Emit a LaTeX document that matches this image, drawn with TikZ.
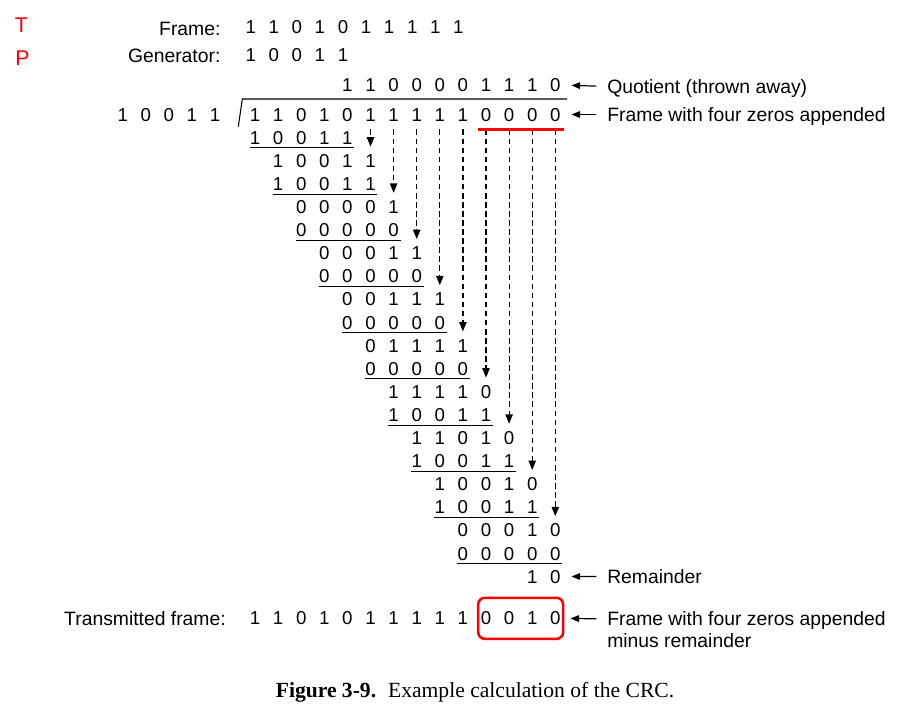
\documentclass[tikz,border=0pt]{standalone}
\usepackage{fontspec}
\setmainfont{Liberation Serif}
\setsansfont{Liberation Sans}
\usetikzlibrary{arrows.meta,fit}
\tikzset{
  bit/.style={inner sep=0pt,text height=10pt,text depth=0pt,font=\sffamily\fontsize{14}{17}\selectfont},
  lbl/.style={inner sep=0pt,text height=10.4pt,text depth=0pt,font=\sffamily\fontsize{14.5}{17}\selectfont},
  tag/.style={lbl,anchor=west},
  redmark/.style={inner sep=0pt,text=red,font=\sffamily\fontsize{16}{19}\selectfont},
  pointer/.style={-{Triangle[length=6.5pt,width=5pt]},line width=0.9pt,shorten <=8pt,shorten >=8pt},
  brought/.style={-{Triangle[length=7pt,width=5.5pt]},dash pattern=on 4.2pt off 2.6pt,line width=0.9pt,shorten <=6pt,shorten >=5.4pt},
  uline/.style={line width=0.8pt}
}
\begin{document}
\begin{tikzpicture}[x=0.75pt,y=-0.75pt]
\useasboundingbox (0,0) rectangle (919,722);
\node[redmark] (markT) at (21.5,25) {T};
\node[redmark] (markP) at (22.5,57.8) {P};
\node[lbl,anchor=east] (lframe) at (220.7,28.5) {Frame:};
\node[lbl,anchor=east] (lgen) at (220.7,56) {Generator:};
\foreach \b [count=\i from 0] in {1,1,0,1,0,1,1,1,1,1}
  \node[bit] (f\i) at ({250.7+23.07*\i},27) {\b};
\foreach \b [count=\i from 0] in {1,0,0,1,1}
  \node[bit] (g\i) at ({250.7+23.07*\i},54.5) {\b};
% division
\foreach \b [count=\i from 0] in {1,0,0,1,1}
  \node[bit] (v\i) at ({122.7+23.07*\i},114.5) {\b};
\foreach \b [count=\i from 4] in {1,1,0,0,0,0,1,1,1,0}
  \node[bit] (q\i) at ({255+23.1*\i},85) {\b};
\foreach \b [count=\i from 0] in {1,1,0,1,0,1,1,1,1,1,0,0,0,0}
  \node[bit] (d\i) at ({255+23.1*\i},114.5) {\b};
\draw[line width=0.8pt] ([shift={(-16.7,12.2)}]d0.center) -- ([shift={(-12.7,-15.5)}]d0.center) -- ([shift={(11.7,-15.5)}]d13.center);
\foreach \k/\s/\bits in {1/0/{1,0,0,1,1},2/1/{1,0,0,1,1},3/1/{1,0,0,1,1},4/2/{0,0,0,0,1},5/2/{0,0,0,0,0},
    6/3/{0,0,0,1,1},7/3/{0,0,0,0,0},8/4/{0,0,1,1,1},9/4/{0,0,0,0,0},10/5/{0,1,1,1,1},11/5/{0,0,0,0,0},
    12/6/{1,1,1,1,0},13/6/{1,0,0,1,1},14/7/{1,1,0,1,0},15/7/{1,0,0,1,1},16/8/{1,0,0,1,0},17/8/{1,0,0,1,1},
    18/9/{0,0,0,1,0},19/9/{0,0,0,0,0},20/12/{1,0}}
  \foreach \b [count=\i from \s] in \bits
    \node[bit] (r\k-\i) at ({255+23.1*\i},{114.5+23.1*\k}) {\b};
\foreach \k in {1,3,...,19}{
  \pgfmathtruncatemacro\s{(\k-1)/2}
  \pgfmathtruncatemacro\e{\s+4}
  \draw[uline] ([shift={(0,3.4)}]r\k-\s.south west) -- ([shift={(1.5,3.4)}]r\k-\e.south east);
}
\foreach \c in {5,...,13}{
  \pgfmathtruncatemacro\t{2*(\c-4)}
  \draw[brought] (d\c.south) -- (r\t-\c.north);
}
\draw[red,line width=2.55pt] ([shift={(-2.4,7.8)}]d10.south west) -- ([shift={(3.4,7.8)}]d13.south east);
% labels on the right
\node[tag] (lquot) at (607,86.5) {Quotient (thrown away)};
\node[tag] (lapp) at (607,114.5) {Frame with four zeros appended};
\node[tag] (lrem) at (607,576.5) {Remainder};
\draw[pointer] (lquot.west) -- (q13.east);
\draw[pointer] (lapp.west) -- (d13.east);
\draw[pointer] (lrem.west) -- (r20-13.east);
% transmitted frame
\node[lbl,anchor=east] (ltx) at (226,619) {Transmitted frame:};
\foreach \b [count=\i from 0] in {1,1,0,1,0,1,1,1,1,1,0,0,1,0}
  \node[bit] (t\i) at ({255+23.1*\i},618.3) {\b};
\node[draw=red,line width=1.9pt,rounded corners=5pt,inner xsep=1.8pt,inner ysep=10.2pt,fit=(t10)(t13)] (tbox) {};
\node[tag] (ltx2) at (607,619) {Frame with four zeros appended};
\node[tag] (lminus) at (607,640.5) {minus remainder};
\draw[pointer,shorten >=4.5pt] (ltx2.west) -- (tbox.east);
\node[anchor=base,inner sep=0pt,font=\fontsize{16.2}{19}\selectfont] (caption) at (475,697)
  {\textbf{Figure 3-9.}\hspace{0.55em}Example calculation of the CRC.};
\end{tikzpicture}
\end{document}
